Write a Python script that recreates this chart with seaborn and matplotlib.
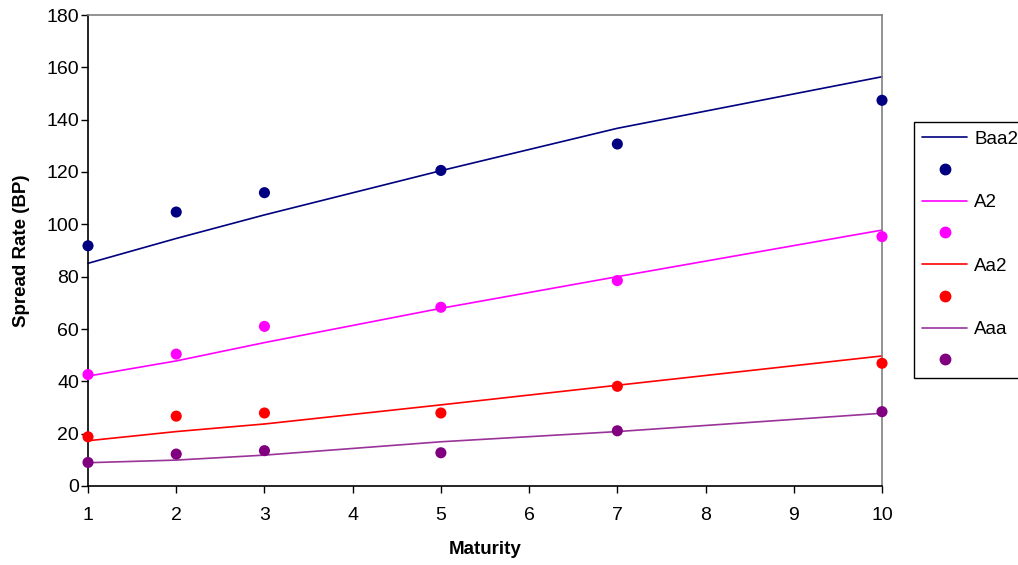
import matplotlib
matplotlib.use("Agg")
import matplotlib.pyplot as plt
from matplotlib.lines import Line2D
import seaborn as sns
import pandas as pd

# Maturities (years) and spreads in basis points
maturity = [1, 2, 3, 5, 7, 10]
ratings = ["Baa2", "A2", "Aa2", "Aaa"]

# Model curves (lines)
model_baa2 = [85.1, 94.6, 103.6, 120.5, 136.7, 156.4]
model_a2 = [42.0, 47.8, 54.8, 67.9, 80.0, 97.8]
model_aa2 = [17.3, 20.8, 23.7, 31.0, 38.5, 49.7]
model_aaa = [8.9, 9.9, 11.8, 16.9, 20.8, 27.8]

# Observed spreads (dots)
obs_baa2 = [91.8, 104.7, 112.1, 120.6, 130.7, 147.4]
obs_a2 = [42.6, 50.4, 61.0, 68.3, 78.5, 95.3]
obs_aa2 = [18.8, 26.7, 27.9, 27.9, 38.1, 46.9]
obs_aaa = [9.0, 12.2, 13.5, 12.7, 21.1, 28.4]

line_colors = {"Baa2": "#000080", "A2": "#FF00FF", "Aa2": "#FF0000", "Aaa": "#993399"}
dot_colors = {"Baa2": "#000080", "A2": "#FF00FF", "Aa2": "#FF0000", "Aaa": "#800080"}

model = dict(zip(ratings, [model_baa2, model_a2, model_aa2, model_aaa]))
obs = dict(zip(ratings, [obs_baa2, obs_a2, obs_aa2, obs_aaa]))

model_df = pd.DataFrame(
    [(r, m, v) for r in ratings for m, v in zip(maturity, model[r])],
    columns=["rating", "maturity", "spread"],
)
obs_df = pd.DataFrame(
    [(r, m, v) for r in ratings for m, v in zip(maturity, obs[r])],
    columns=["rating", "maturity", "spread"],
)

sns.set_style("white")
plt.rcParams["font.family"] = ["Liberation Sans", "DejaVu Sans"]
plt.rcParams["text.color"] = "black"
plt.rcParams["axes.labelcolor"] = "black"

fig = plt.figure(figsize=(10.18, 5.65), dpi=100)
ax = fig.add_axes([88 / 1018, 79 / 565, 794 / 1018, 471 / 565])

sns.lineplot(
    data=model_df, x="maturity", y="spread", hue="rating",
    palette=line_colors, hue_order=ratings, linewidth=1.2,
    legend=False, ax=ax, clip_on=False,
)
sns.scatterplot(
    data=obs_df, x="maturity", y="spread", hue="rating",
    palette=dot_colors, hue_order=ratings, s=64, edgecolor="none",
    legend=False, ax=ax, clip_on=False, zorder=3,
)

ax.set_xlim(1, 10)
ax.set_ylim(0, 180)
ax.set_xticks(range(1, 11))
ax.set_yticks(range(0, 181, 20))
ax.tick_params(axis="both", which="major", labelsize=14, colors="black",
               direction="out", length=5, width=1,
               left=True, bottom=True)
ax.tick_params(axis="x", pad=10)
ax.tick_params(axis="y", pad=1.5)

for side in ("left", "bottom"):
    ax.spines[side].set_color("black")
    ax.spines[side].set_linewidth(1.2)
for side in ("top", "right"):
    ax.spines[side].set_color("#808080")
    ax.spines[side].set_linewidth(1.2)

ax.set_xlabel("Maturity", fontsize=13.5, fontweight="bold", labelpad=12)
ax.set_ylabel("Spread Rate (BP)", fontsize=13.5, fontweight="bold", labelpad=12)

handles, labels = [], []
for r in ratings:
    handles.append(Line2D([], [], color=line_colors[r], linewidth=1.2))
    labels.append(r)
    handles.append(Line2D([], [], color=dot_colors[r], marker="o",
                          linestyle="none", markersize=7.5))
    labels.append("")

leg = fig.legend(
    handles, labels, loc="upper left",
    bbox_to_anchor=(914 / 1018, 1 - 122 / 565),
    frameon=True, fancybox=False, framealpha=1, edgecolor="black",
    fontsize=13.5, handlelength=2.4, handletextpad=0.35,
    labelspacing=0.78, borderpad=0.45, borderaxespad=0,
)
leg.get_frame().set_linewidth(1.0)

fig.savefig("out.png", dpi=100, facecolor="white")
